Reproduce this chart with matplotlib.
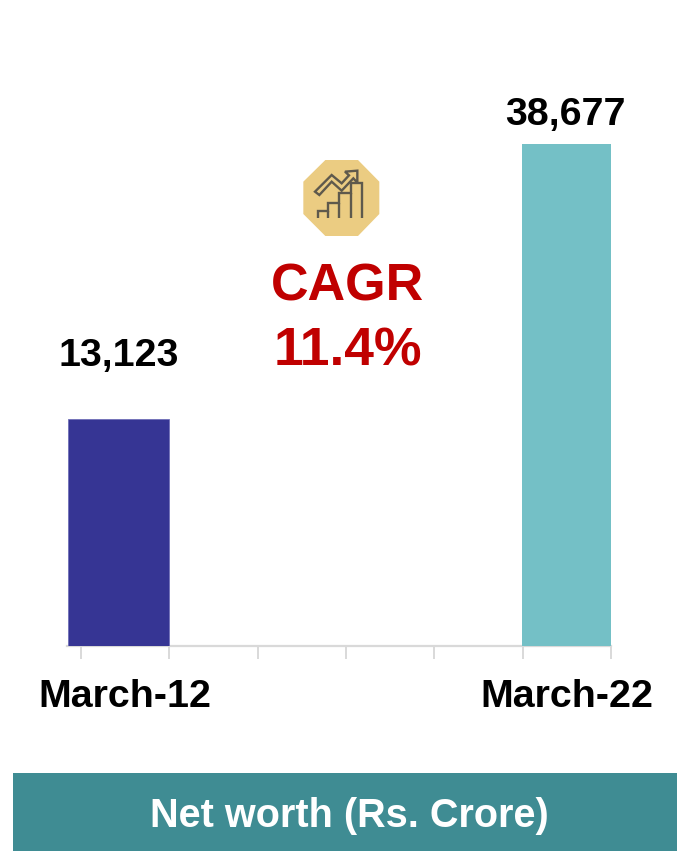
import matplotlib
matplotlib.use('Agg')
import matplotlib.pyplot as plt
from matplotlib.patches import Polygon, Rectangle

plt.rcParams['font.family'] = ['Liberation Sans', 'DejaVu Sans']

W, H = 677, 851

categories = ['March-12', 'March-22']
values = [13123, 38677]
value_labels = ['13,123', '38,677']
cagr_lines = ['CAGR', '11.4%']
banner_title = 'Net worth (Rs. Crore)'

BASELINE = -7924  # bars in the source do not start at zero
NAVY = '#363594'
TEAL = '#74C0C6'
RED = '#C00000'
BANNER = '#3F8C93'
ICON_BG = '#EBCC82'
ICON_LINE = '#5E594C'
AXIS_GREY = '#D9D9D9'


def to_fig(x, y):
    return x / W, 1 - y / H


fig = plt.figure(figsize=(W / 100, H / 100), dpi=100, facecolor='white')

# axes box in pixels: left 67.5, right 611, top 80, baseline 645.5
x0, y1 = to_fig(67.5, 645.5)
x1, y2 = to_fig(611, 80)
ax = fig.add_axes([x0, y1, x1 - x0, y2 - y1])
px_per_unit = 501.5 / (values[1] - BASELINE)
ax.set_ylim(BASELINE, BASELINE + (645.5 - 80) / px_per_unit)
ax.set_xlim(-0.653, 5.5)
ax.patch.set_alpha(0)

ax.bar(-0.08, values[0] - BASELINE, width=1.146, bottom=BASELINE, color=NAVY,
       edgecolor='#6F6EB8', linewidth=0.6, zorder=3)
ax.bar(4.995, values[1] - BASELINE, width=1.01, bottom=BASELINE, color=TEAL, zorder=3)

for s in ['top', 'left', 'right']:
    ax.spines[s].set_visible(False)
ax.spines['bottom'].set_color(AXIS_GREY)
ax.spines['bottom'].set_linewidth(1.6)
ax.set_yticks([])

ax.set_xticks([0, 5])
ax.set_xticklabels(categories, fontsize=28.4, fontweight='bold', color='black')
ax.tick_params(axis='x', which='major', length=0, pad=24)
ax.set_xticks([i - 0.5 for i in range(7)], minor=True)
ax.tick_params(axis='x', which='minor', length=9, width=1.4, color=AXIS_GREY)

# value labels sit a bit to the side of the bars, same as the source
fig.text(*to_fig(118.5, 356), value_labels[0], fontsize=28.4, fontweight='bold',
         ha='center', va='center', color='black')
fig.text(*to_fig(565, 115), value_labels[1], fontsize=28.4, fontweight='bold',
         ha='center', va='center', color='black')

fig.text(*to_fig(347.5, 287), cagr_lines[0], fontsize=37.5, fontweight='bold',
         ha='center', va='center', color=RED)
fig.text(*to_fig(347.5, 352), cagr_lines[1], fontsize=38.5, fontweight='bold',
         ha='center', va='center', color=RED)

# banner
bx, by = to_fig(13, 851)
fig.add_artist(Rectangle((bx, by), (W - 13) / W, 78 / H, transform=fig.transFigure,
                         facecolor=BANNER, edgecolor='none'))
fig.text(*to_fig(349, 816), banner_title, fontsize=28.5, fontweight='bold',
         ha='center', va='center', color='white')


# icon outline, traced in the zoomed crop (3x, offset 280,150)
def icon_pts(pts):
    return [to_fig(280 + px / 3, 150 + py / 3) for px, py in pts]


octagon = [(136, 30), (234, 30), (298, 95), (298, 192), (234, 258), (136, 258), (70, 192), (70, 95)]
fig.add_artist(Polygon(icon_pts(octagon), closed=True, transform=fig.transFigure,
                       facecolor=ICON_BG, edgecolor='none'))

stairs = [(115, 205), (115, 182), (145, 182), (145, 158), (178, 158), (178, 130),
          (212, 130), (212, 98), (245, 98), (245, 205)]
arrow = [(105, 125), (155, 75), (185, 100), (207, 76), (195, 65), (232, 62), (232, 98),
         (220, 85), (185, 122), (155, 95), (118, 135)]
fig.add_artist(Polygon(icon_pts(stairs), closed=False, fill=False, transform=fig.transFigure,
                       edgecolor=ICON_LINE, linewidth=1.7))
fig.add_artist(Polygon(icon_pts(arrow), closed=True, fill=False, transform=fig.transFigure,
                       edgecolor=ICON_LINE, linewidth=1.7))
for xs, ys in [(145, 182), (178, 158), (212, 130)]:
    fig.add_artist(Polygon(icon_pts([(xs, ys), (xs, 205)]), closed=False, fill=False,
                           transform=fig.transFigure, edgecolor=ICON_LINE, linewidth=1.7))

fig.savefig('out.png', dpi=100)
